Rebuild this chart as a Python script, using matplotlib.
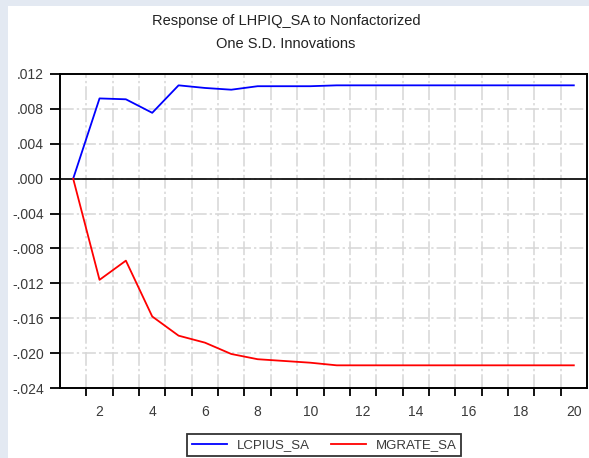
import matplotlib
matplotlib.use("Agg")
import matplotlib.pyplot as plt
from matplotlib.patches import Rectangle
import numpy as np

plt.rcParams['font.family'] = ['Liberation Sans', 'DejaVu Sans']

periods = list(range(1, 21))
lcpius_sa = [0.0, 0.0092, 0.0091, 0.00755, 0.0107, 0.0104, 0.0102, 0.0106, 0.0106, 0.0106,
             0.0107, 0.0107, 0.0107, 0.0107, 0.0107, 0.0107, 0.0107, 0.0107, 0.0107, 0.0107]
mgrate_sa = [0.0, -0.0116, -0.0094, -0.0158, -0.0180, -0.0188, -0.0201, -0.0207, -0.0209, -0.0211,
             -0.0214, -0.0214, -0.0214, -0.0214, -0.0214, -0.0214, -0.0214, -0.0214, -0.0214, -0.0214]
y_ticks = [0.012, 0.008, 0.004, 0.000, -0.004, -0.008, -0.012, -0.016, -0.020, -0.024]
y_labels = [".012", ".008", ".004", ".000", "-.004", "-.008", "-.012", "-.016", "-.020", "-.024"]
x_labels = list(range(2, 21, 2))
title_lines = ["Response of LHPIQ_SA to Nonfactorized", "One S.D. Innovations"]

fig = plt.figure(figsize=(5.89, 4.58), dpi=100)
fig.patch.set_facecolor('#e3e9f2')
fig.add_artist(Rectangle((8/589, 0), 1 - 8/589, 1 - 6/458, transform=fig.transFigure,
                         facecolor='white', edgecolor='none', zorder=0))

ax = fig.add_axes([60/589, 1 - 388/458, (587 - 60)/589, (388 - 74)/458])
ax.set_facecolor('white')

ax.set_xlim(0.5, 20.5)
ax.set_ylim(-0.024, 0.012)

# grid
gls = (0, (9, 2, 1.5, 2))
for xv in np.arange(1.5, 20.5, 1.0):
    ax.axvline(xv, color='#d6d6d6', lw=1.1, ls=gls, zorder=1)
for yv in y_ticks:
    ax.axhline(yv, color='#d6d6d6', lw=1.1, ls=gls, zorder=1)
ax.axhline(0, color='black', lw=1.2, zorder=2)

ax.plot(periods, lcpius_sa, color='#0000ff', lw=1.3, label='LCPIUS_SA', zorder=3)
ax.plot(periods, mgrate_sa, color='#ff0000', lw=1.3, label='MGRATE_SA', zorder=3)

ax.set_yticks(y_ticks)
ax.set_yticklabels(y_labels, fontsize=10, color='#3a3a3a')
ax.set_xticks(np.arange(1.5, 20.5, 1.0))
ax.set_xticklabels([])
ax.set_xticks(x_labels, minor=True)
ax.set_xticklabels([str(v) for v in x_labels], minor=True, fontsize=10, color='#3a3a3a')
ax.tick_params(axis='x', which='major', direction='out', length=6, width=1.3)
ax.tick_params(axis='x', which='minor', length=0, pad=12)
ax.tick_params(axis='y', direction='out', length=7, width=1.3, pad=4.5)
for s in ax.spines.values():
    s.set_linewidth(1.4)
    s.set_color('black')

fig.text(286/589, 1 - 21/458, title_lines[0], ha='center', va='center', fontsize=10.5,
         color='#222222')
fig.text(286/589, 1 - 44/458, title_lines[1], ha='center', va='center', fontsize=10.5,
         color='#222222')

leg = fig.legend(loc='center', bbox_to_anchor=(324/589, 1 - 445/458), ncol=2,
                 fontsize=9.5, frameon=True, fancybox=False, edgecolor='black',
                 handlelength=2.7, columnspacing=1.6, borderpad=0.35, handletextpad=0.7)
leg.get_frame().set_linewidth(1.3)
for t in leg.get_texts():
    t.set_color('#3a3a3a')

fig.savefig('out.png', dpi=100, facecolor=fig.get_facecolor())
